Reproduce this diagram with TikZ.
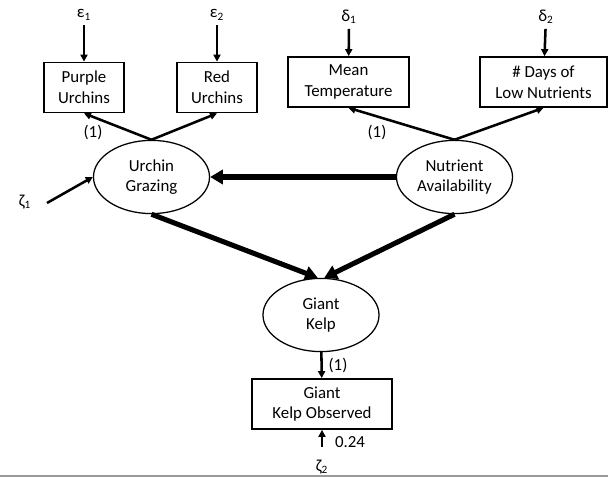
\documentclass[tikz,border=0pt]{standalone}
\usepackage{fontspec}
\setmainfont{Carlito}
\usetikzlibrary{positioning, arrows.meta, shapes.geometric}

\begin{document}
\begin{tikzpicture}[x=0.025cm, y=-0.025cm,
  every node/.style={font=\fontsize{12}{14.7}\selectfont},
  obs/.style={draw, line width=1.2pt, minimum width=#1, minimum height=1.25cm,
    inner sep=0pt, align=center},
  obs/.default={2cm},
  lat/.style={draw, ellipse, line width=0.9pt, minimum width=2.9cm,
    minimum height=1.83cm, inner sep=0pt, align=center},
  arr/.style={-{Triangle[length=5pt, width=5pt]}, line width=1.8pt},
  big/.style={-{Triangle[length=9pt, width=10pt]}, line width=3.6pt}
]
  \useasboundingbox (0,0) rectangle (608,477);

  % Error terms
  \node (e1) at (84,15) {ε\textsubscript{1}};
  \node (e2) at (217,15) {ε\textsubscript{2}};
  \node (d1) at (349,17) {δ\textsubscript{1}};
  \node (d2) at (546,17) {δ\textsubscript{2}};
  \node (z1) at (25,202) {ζ\textsubscript{1}};
  \node (z2) at (322,467) {ζ\textsubscript{2}};
  \coordinate (z1s) at (47,203);

  % Indicators
  \node[obs] (pu) at (84,87.5) {Purple\\Urchins};
  \node[obs] (ru) at (217,87.5) {Red\\Urchins};
  \node[obs=3.025cm] (mt) at (348.5,82) {Mean\\Temperature};
  \node[obs=3.175cm] (ln) at (543.5,82) {\# Days of\\Low Nutrients};

  % Latent variables
  \node[lat] (ug) at (151.5,177) {Urchin\\Grazing};
  \node[lat] (na) at (454.5,177) {Nutrient\\Availability};
  \node[lat] (gk) at (321,315) {Giant\\Kelp};
  \node[obs=3.5cm] (gko) at (322,404) {Giant\\Kelp Observed};

  % Fixed loadings
  \node (f1) at (93,133) {(1)};
  \node (f2) at (377,133) {(1)};
  \node (f3) at (338,366) {(1)};
  \node (v2) at (350,442) {0.24};

  % Arrows
  \draw[arr] (e1) -- (pu);
  \draw[arr] (e2) -- (ru);
  \draw[arr] (d1) -- (mt);
  \draw[arr] (d2) -- (ln);
  \draw[arr] (ug.north) -- (pu.south);
  \draw[arr] (ug.north) -- (ru.south);
  \draw[arr] (na.north) -- (mt.south);
  \draw[arr] (na.north) -- (ln.south);
  \draw[arr] (z1s) -- (ug.west);
  \draw[big] (na) -- (ug);
  \draw[big] (ug.south) -- (gk.95);
  \draw[big] (na.south) -- (gk.85);
  \draw[arr] (gk) -- (gko);
  \draw[arr, shorten <=6pt] (z2) -- (gko);

  % Bottom rule
  \draw[gray!80, line width=1.2pt] (0,476) -- (608,476);
\end{tikzpicture}
\end{document}
